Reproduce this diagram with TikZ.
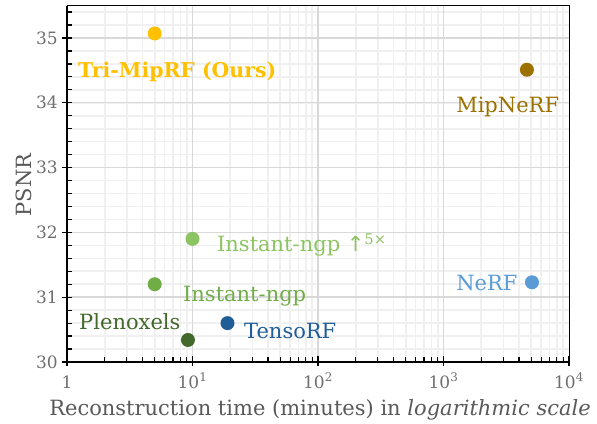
\documentclass[tikz,border=0pt]{standalone}
\usepackage{fontspec}
\setmainfont{DejaVu Serif}
\newfontfamily\arrowfont{DejaVu Sans}

\definecolor{tricol}{HTML}{FFC000}
\definecolor{mipcol}{HTML}{9C7100}
\definecolor{ngpfivecol}{HTML}{8DC462}
\definecolor{ngpcol}{HTML}{70AD47}
\definecolor{plenocol}{HTML}{43682B}
\definecolor{tensocol}{HTML}{215D96}
\definecolor{nerfcol}{HTML}{5B9BD5}
\definecolor{tickcol}{HTML}{6E6E6E}
\definecolor{titlecol}{HTML}{595959}

\tikzset{
    dot/.style={circle, fill=#1, minimum size=14pt, inner sep=0pt},
    lbl/.style={anchor=base west, text=#1, inner sep=0pt},
    minorgrid/.style={draw=black!6, line width=1.6pt},
    majorgrid/.style={draw=black!15, line width=1.4pt},
    ticklbl/.style={text=tickcol, font=\fontsize{17pt}{20pt}\selectfont, inner sep=0pt}
}

\begin{document}
\begin{tikzpicture}[x=125.5pt, y=64.8pt, every node/.style={font=\fontsize{21pt}{24pt}\selectfont}]

    \useasboundingbox (-67pt,-61pt) rectangle (530pt,362pt);

    % minor grid
    \foreach \d in {0,1,2,3}
        \foreach \k in {2,...,9}
            \draw[minorgrid] ({\d+log10(\k)},0) -- ({\d+log10(\k)},5.5);
    \foreach \y in {0.2,0.4,...,5.41}
        \draw[minorgrid] (0,\y) -- (4,\y);

    % major grid
    \foreach \d in {1,2,3}
        \draw[majorgrid] (\d,0) -- (\d,5.5);
    \foreach \y in {1,...,5}
        \draw[majorgrid] (0,\y) -- (4,\y);

    % axes
    \draw[line width=1pt] (0,0) rectangle (4,5.5);
    \draw[line width=1.6pt] (0,5.5) -- (0,0) -- (4,0);

    % x ticks
    \foreach \d in {0,...,4}
        \draw[line width=1.2pt] (\d,0) ++(0,-4pt) -- ++(0,10pt);
    \foreach \d in {0,1,2,3}
        \foreach \k in {2,...,9}
            \draw[line width=1.2pt] ({\d+log10(\k)},0) -- ++(0,5pt);

    % y ticks
    \foreach \y in {0,...,5}
        \draw[line width=1.2pt] (0,\y) ++(-5pt,0) -- ++(10pt,0);
    \foreach \y in {0.2,0.4,...,5.41}
        \draw[line width=1.2pt] (0,\y) -- ++(5pt,0);

    % tick labels
    \foreach \y in {0,...,5}
        \node[ticklbl, anchor=east] (ylab\y) at ([xshift=-9pt]0,\y) {\pgfmathparse{int(30+\y)}\pgfmathresult};
    \node[ticklbl, anchor=base] (xlab0) at ([yshift=-26pt]0,0) {1};
    \foreach \d in {1,...,4}
        \node[ticklbl, anchor=base] (xlab\d) at ([yshift=-26pt]\d,0) {10\textsuperscript{\d}};

    % axis titles
    \node[text=titlecol, anchor=base, inner sep=0pt] (xtitle) at (2.016,-0.833)
        {Reconstruction time (minutes) in \textit{logarithmic scale}};
    \node[text=titlecol, anchor=base, rotate=90, inner sep=0pt] (ytitle) at (-0.279,2.73) {PSNR};

    % Tri-MipRF
    \node[dot=tricol] (tri) at ({log10(5)},5.07) {};
    \node[lbl=tricol, font=\fontsize{20.4pt}{24pt}\selectfont\bfseries] (trilbl) at (0.088,4.383) {Tri-MipRF (Ours)};

    % MipNeRF
    \node[dot=mipcol] (mip) at ({log10(4620)},4.51) {};
    \node[lbl=mipcol] (miplbl) at (3.10,3.843) {MipNeRF};

    % Instant-ngp 5x
    \node[dot=ngpfivecol] (ngpfive) at (1,1.9) {};
    \node[lbl=ngpfivecol] (ngpfivelbl) at (1.195,1.698) {Instant-ngp {\arrowfont↑}\textsuperscript{5×}};

    % Instant-ngp
    \node[dot=ngpcol] (ngp) at ({log10(5)},1.2) {};
    \node[lbl=ngpcol] (ngplbl) at (0.924,0.941) {Instant-ngp};

    % Plenoxels
    \node[dot=plenocol] (pleno) at ({log10(9.2)},0.34) {};
    \node[lbl=plenocol] (plenolbl) at (0.096,0.509) {Plenoxels};

    % TensoRF
    \node[dot=tensocol] (tenso) at ({log10(19)},0.6) {};
    \node[lbl=tensocol] (tensolbl) at (1.41,0.370) {TensoRF};

    % NeRF
    \node[dot=nerfcol] (nerf) at ({log10(5070)},1.23) {};
    \node[lbl=nerfcol] (nerflbl) at (3.10,1.111) {NeRF};

\end{tikzpicture}
\end{document}
